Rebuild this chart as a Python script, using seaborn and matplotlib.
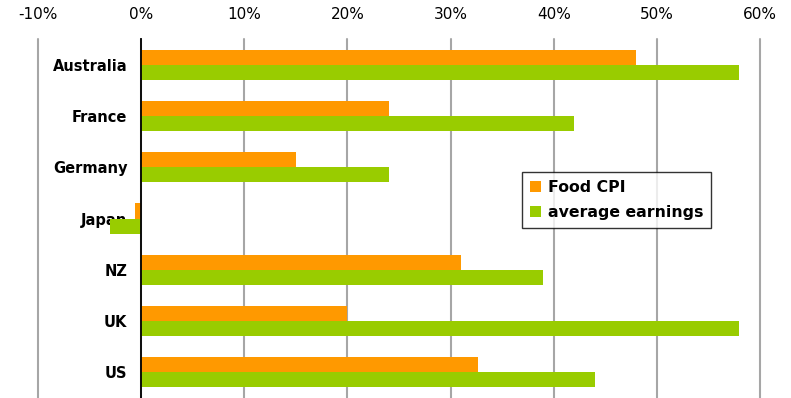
import pandas as pd
import numpy as np
import seaborn as sns
import matplotlib.pyplot as plt
from matplotlib.ticker import FixedLocator

countries = ["Australia", "France", "Germany", "Japan", "NZ", "UK", "US"]
food_cpi = [48.0, 24.0, 15.0, -0.6, 31.0, 20.0, 32.7]
avg_earnings = [58.0, 42.0, 24.0, -3.0, 39.0, 58.0, 44.0]
series_names = ["Food CPI", "average earnings"]
x_ticks = [-10, 0, 10, 20, 30, 40, 50, 60]

df = pd.DataFrame({
    "country": countries * 2,
    "series": [series_names[0]] * len(countries) + [series_names[1]] * len(countries),
    "value": food_cpi + avg_earnings,
})

sns.set_style("white")
plt.rcParams["font.family"] = ["DejaVu Sans"]

fig = plt.figure(figsize=(7.91, 3.98), dpi=100)
ax = fig.add_axes([38 / 791, 0.0, 722 / 791, 359 / 398])

sns.barplot(data=df, x="value", y="country", hue="series", orient="h",
            palette=["#FF9900", "#99CC00"], width=0.59, saturation=1,
            order=countries, hue_order=series_names, ax=ax, errorbar=None,
            linewidth=0, edgecolor="none")

ax.set_xlim(-10, 60)
ax.set_ylim(len(countries) - 0.5, -0.5)
ax.set_xticks(x_ticks)
ax.set_xticklabels([f"{t}%" for t in x_ticks], fontsize=11, color="black")
ax.xaxis.tick_top()
ax.tick_params(axis="x", length=0, pad=12)
ax.set_xlabel("")
ax.set_ylabel("")

ax.grid(axis="x", color="#A6A6A6", linewidth=1.5)
ax.grid(axis="y", visible=False)
for gl in ax.get_xgridlines():
    gl.set_clip_on(False)
ax.set_axisbelow(True)

for s in ["top", "right", "bottom"]:
    ax.spines[s].set_visible(False)
ax.spines["left"].set_position(("data", 0))
ax.spines["left"].set_color("black")
ax.spines["left"].set_linewidth(1.3)

ax.set_yticks(range(len(countries)))
ax.set_yticklabels(countries, fontsize=10.5, fontweight="bold", color="black")
ax.tick_params(axis="y", which="major", length=0, pad=10)
ax.yaxis.set_minor_locator(FixedLocator(np.arange(-0.5, len(countries), 1.0)))
ax.tick_params(axis="y", which="minor", length=5, width=1.3, color="black", direction="out")

leg = ax.legend(loc="upper left", bbox_to_anchor=(0.670, 0.630), borderaxespad=0,
                frameon=True, fancybox=False, edgecolor="black",
                handlelength=0.7, handleheight=0.7, handletextpad=0.45,
                borderpad=0.5, labelspacing=0.65,
                prop={"weight": "bold", "size": 11.3})
leg.get_frame().set_linewidth(1.0)
for t in leg.get_texts():
    t.set_color("black")

fig.savefig("out.png", dpi=100)
